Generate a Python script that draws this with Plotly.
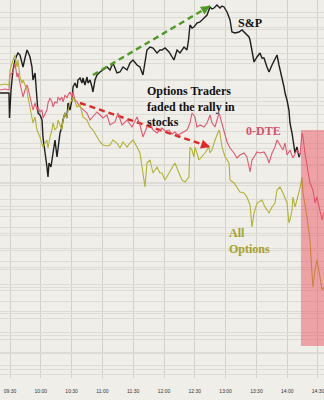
import plotly.graph_objects as go

# minutes after 09:30 and level readings (arbitrary units, higher = up)
sp_t = [-9.7, -4.9, -1, -0.5, 1, 2.9, 4.9, 6.8, 7.8, 9.7, 11.2, 12.7, 14.6, 16.6, 17.5, 19.5, 21.4, 22.4, 24.4,
        26.3, 27.3, 29.2, 31.2, 32.1, 34.1, 36, 37, 38, 39.9, 41.9, 43.8, 45.8, 46.8, 48.7, 50.6, 51.6, 53.6,
        55.5, 56.5, 58.4, 60.4, 61.4, 63.3, 65.3, 66.2, 68.2, 70.1, 71.1, 73, 75, 76, 77.9, 79.9, 80.8, 82.8,
        84.7, 87.7, 90.6, 94.5, 97.4, 100.3, 104.2, 107.1, 110.1, 114, 116.9, 119.8, 123.7, 126.6, 129.5,
        133.4, 136.4, 139.3, 143.2, 146.1, 148, 151, 154.9, 157.8, 159.7, 162.7, 165.6, 169.5, 172.4, 173.9,
        175.3, 177.3, 179.2, 182.1, 185.1, 189, 191.9, 194.8, 196.8, 198.7, 201.6, 204.5, 206.5, 208.4, 211.4,
        214.3, 216.2, 219.2, 223, 226, 228.9, 232.8, 233.8, 235.7, 237.7, 240.6, 243.5, 245.4, 247.4, 250.3,
        252.3, 255.2, 258.1, 260.1, 262, 264.9, 266.9, 267.9, 269.8, 271.7, 272.7, 274.7, 276.6, 277.6, 279.5,
        281.5, 282.5]
sp_v = [285, 285, 285, 260, 288, 308, 318, 323, 325, 323, 318, 311, 320, 328, 326, 321, 311, 298, 305,
        281, 265, 263, 258, 241, 228, 211, 201, 215, 211, 228, 238, 221, 231, 245, 251, 258, 265,
        260, 275, 268, 278, 291, 295, 290, 298, 300, 295, 300, 293, 301, 295, 298, 291, 286, 298,
        303, 306, 308, 311, 308, 315, 305, 306, 311, 308, 315, 318, 313, 311, 303,
        328, 331, 330, 325, 328, 328, 330, 326, 321, 318, 328, 325, 331, 328, 338,
        353, 350, 351, 355, 356, 360, 363, 371, 369, 370, 373, 370, 372, 371, 366,
        358, 346, 345, 346, 348, 345, 341, 338, 325, 316, 321, 325, 320, 320, 311,
        306, 313, 320, 323, 313, 301, 291, 285, 278, 268, 255, 245, 231, 225, 231,
        221, 225]

dte_t = [-9.7, -4.9, -1, 0, 2.9, 4.9, 6.8, 7.8, 9.7, 11.7, 12.7, 14.6, 16.6, 17.5, 19.5, 21.4, 22.4, 24.4,
         26.3, 27.3, 29.2, 31.2, 32.1, 34.1, 36, 37, 39, 40.9, 41.9, 43.8, 45.8, 46.8, 48.7, 50.6, 51.6, 53.6,
         55.5, 56.5, 58.4, 60.4, 61.4, 63.3, 65.3, 68.2, 71.1, 75, 77.9, 80.8, 84.7, 87.7, 90.6, 94.5, 97.4,
         102.3, 105.2, 109.1, 114, 118.8, 123.7, 126.6, 129.5, 133.4, 136.4, 139.3, 143.2, 146.1, 148, 151,
         154.9, 157.8, 160.6, 163.6, 167.5, 172.4, 175.3, 177.3, 180.2, 182.1, 185.1, 189, 191.9, 194.8, 196.8,
         199.7, 203.6, 205.5, 208.4, 211.4, 214.3, 218.2, 221.1, 224, 227.9, 230.8, 233.8, 235.7, 237.7, 240.6,
         243.5, 247.4, 250.3, 252.3, 255.2, 258.1, 260.1, 262.9, 265.9, 267.9, 269.8, 272.7, 275.6, 279.5,
         282.5, 284.4, 285.4, 287.3, 289.3, 292.2, 295.1, 297.1, 299, 301.9, 303.9, 305.8]
dte_v = [288, 289, 288, 303, 306, 315, 301, 305, 295, 286, 281, 288, 293, 290, 281, 271, 268, 275,
         268, 271, 266, 268, 260, 264, 268, 275, 280, 276, 271, 276, 275, 281, 278, 281, 276, 283,
         280, 283, 286, 281, 286, 278, 276, 271, 268, 265, 258, 261, 266, 263, 260, 263, 253,
         256, 265, 253, 258, 251, 261, 253, 241, 251, 255, 248, 245, 248, 250, 247,
         248, 244, 246, 243, 245, 248, 255, 265, 261, 251, 253, 251, 255, 263, 255,
         251, 265, 258, 245, 236, 230, 225, 220, 223, 225, 221, 206, 218, 221, 226,
         225, 226, 221, 215, 225, 231, 238, 233, 228, 235, 223, 228, 220, 228,
         223, 245, 241, 225, 211, 195, 188, 175, 181, 168, 158, 165]

all_t = [-9.7, -4.9, -1, 0, 2.9, 4.9, 6.8, 7.8, 9.7, 11.7, 12.7, 16.6, 17.5, 19.5, 21.4, 22.4, 24.4, 26.3,
         29.2, 31.2, 32.1, 36, 37, 39, 40.9, 41.9, 43.8, 45.8, 46.8, 48.7, 50.6, 51.6, 53.6, 55.5, 56.5, 58.4,
         60.4, 61.4, 63.3, 65.3, 68.2, 71.1, 75, 77.9, 80.8, 84.7, 87.7, 90.6, 94.5, 97.4, 100.3, 104.2, 107.1,
         110.1, 114, 116.9, 119.8, 123.7, 126.6, 129.5, 131.5, 133.4, 136.4, 139.3, 143.2, 146.1, 148, 151,
         154.9, 157.8, 160.6, 164.6, 167.5, 170.5, 174.3, 175.3, 177.3, 179.2, 180.2, 184.1, 187, 189.9, 193.8,
         194.8, 196.8, 199.7, 203.6, 204.5, 206.5, 209.5, 213.4, 214.3, 218.2, 221.1, 224, 227.9, 230.8, 233.8,
         235.7, 237.7, 240.6, 245.4, 248.4, 252.3, 255.2, 258.1, 260.1, 262.9, 265.9, 269.8, 271.7, 272.7,
         274.7, 275.6, 277.6, 279.5, 281.5, 282.5, 284.4, 285.4, 289.3, 292.2, 294.1, 295.1, 297.1, 299, 301.9,
         303.9, 305.8]
all_v = [293, 294, 293, 308, 318, 323, 311, 318, 301, 295, 298, 288, 281, 271, 258, 255, 261, 248,
         241, 235, 231, 238, 230, 241, 248, 255, 248, 251, 258, 253, 248, 258, 265, 260, 268, 275,
         278, 281, 276, 271, 273, 261, 258, 251, 248, 241, 236, 233, 232, 233, 238, 235, 230,
         236, 231, 235, 238, 231, 225, 205, 191, 215, 218, 205, 211, 205, 205, 198,
         205, 211, 215, 205, 198, 196, 201, 231, 228, 221, 231, 218, 221, 225, 231,
         225, 228, 238, 248, 245, 231, 221, 215, 198, 195, 191, 186, 185, 181, 173,
         151, 165, 175, 178, 171, 165, 171, 175, 188, 191, 185, 175, 155, 158,
         168, 181, 171, 178, 185, 190, 201, 185, 161, 138, 105, 91, 108, 118, 101,
         88, 91]

tick_vals = [0, 30, 60, 90, 120, 150, 180, 210, 240, 270, 300]
tick_text = ["09:30", "10:00", "10:30", "11:00", "11:30", "12:00", "12:30", "13:00", "13:30", "14:00", "14:30"]

green_arrow_t = [80.8, 194.8]
green_arrow_v = [303, 372]
red_arrow_t = [68.2, 194.8]
red_arrow_v = [275, 231]

box_t = [283.4, 320]
box_v = [32, 248]

BG = "#efeee9"
GRID = "#dcdbd6"

fig = go.Figure()
fig.add_trace(go.Scatter(x=sp_t, y=sp_v, mode="lines", line=dict(color="#1e1e1e", width=1.4), yaxis="y"))
fig.add_trace(go.Scatter(x=dte_t, y=dte_v, mode="lines", line=dict(color="#e05a72", width=1.1), yaxis="y2"))
fig.add_trace(go.Scatter(x=all_t, y=all_v, mode="lines", line=dict(color="#b3b232", width=1.1), yaxis="y3"))

fig.add_trace(go.Scatter(x=green_arrow_t, y=green_arrow_v, mode="lines",
                         line=dict(color="#4f9a25", width=2.4, dash="6px,4px")))
fig.add_trace(go.Scatter(x=red_arrow_t, y=red_arrow_v, mode="lines",
                         line=dict(color="#e02828", width=2.4, dash="6px,4px")))

for (tt, vv, col) in [(green_arrow_t, green_arrow_v, "#4f9a25"), (red_arrow_t, red_arrow_v, "#e02828")]:
    fig.add_annotation(x=tt[1], y=vv[1], ax=tt[1] - (tt[1] - tt[0]) * 0.04, ay=vv[1] - (vv[1] - vv[0]) * 0.04,
                       xref="x", yref="y", axref="x", ayref="y", showarrow=True, arrowhead=2,
                       arrowsize=0.75, arrowwidth=2.4, arrowcolor=col, text="")

fig.add_shape(type="rect", x0=box_t[0], x1=box_t[1], y0=box_v[0], y1=box_v[1], xref="x", yref="y",
              fillcolor="rgba(235,70,85,0.45)", line=dict(width=0), layer="above")

serif = "Liberation Serif"
fig.add_annotation(x=233.8, y=355, xref="x", yref="y", text="<b>S&amp;P</b>", showarrow=False,
                   font=dict(family=serif, size=12, color="#111"), xanchor="center")
fig.add_annotation(x=131.5, y=296, xref="x", yref="y",
                   text="<b>Options Traders<br>faded the rally in<br>stocks</b>", showarrow=False, align="left",
                   font=dict(family=serif, size=12, color="#111"), xanchor="left", yanchor="top")
fig.add_annotation(x=228, y=247, xref="x", yref="y", text="<b>0-DTE</b>", showarrow=False,
                   font=dict(family=serif, size=12, color="#dc5068"), xanchor="left")
fig.add_annotation(x=211, y=154, xref="x", yref="y", text="<b>All<br>Options</b>", showarrow=False,
                   align="left", font=dict(family=serif, size=12, color="#a8a22a"), xanchor="left", yanchor="top")

fig.update_layout(
    width=324, height=400, margin=dict(l=0, r=0, t=0, b=22),
    paper_bgcolor=BG, plot_bgcolor=BG, showlegend=False,
    xaxis=dict(range=[-9.74, 305.85], tickvals=tick_vals, ticktext=tick_text, showgrid=True,
               gridcolor="#d2d1cc", gridwidth=1, zeroline=False, showline=False, ticks="",
               tickfont=dict(size=5, color="#333", family="Arial"), ticklabelstandoff=9,
               ticklabeloverflow="allow"),
    yaxis=dict(range=[0, 378], dtick=21, tick0=4, showgrid=True, gridcolor=GRID, showticklabels=False,
               zeroline=False, ticks=""),
    yaxis2=dict(range=[0, 378], dtick=17, tick0=9, showgrid=True, gridcolor=GRID, showticklabels=False,
                zeroline=False, ticks="", overlaying="y"),
    yaxis3=dict(range=[0, 378], dtick=26, tick0=13, showgrid=True, gridcolor=GRID, showticklabels=False,
                zeroline=False, ticks="", overlaying="y"),
)

fig.write_html("out.html")
